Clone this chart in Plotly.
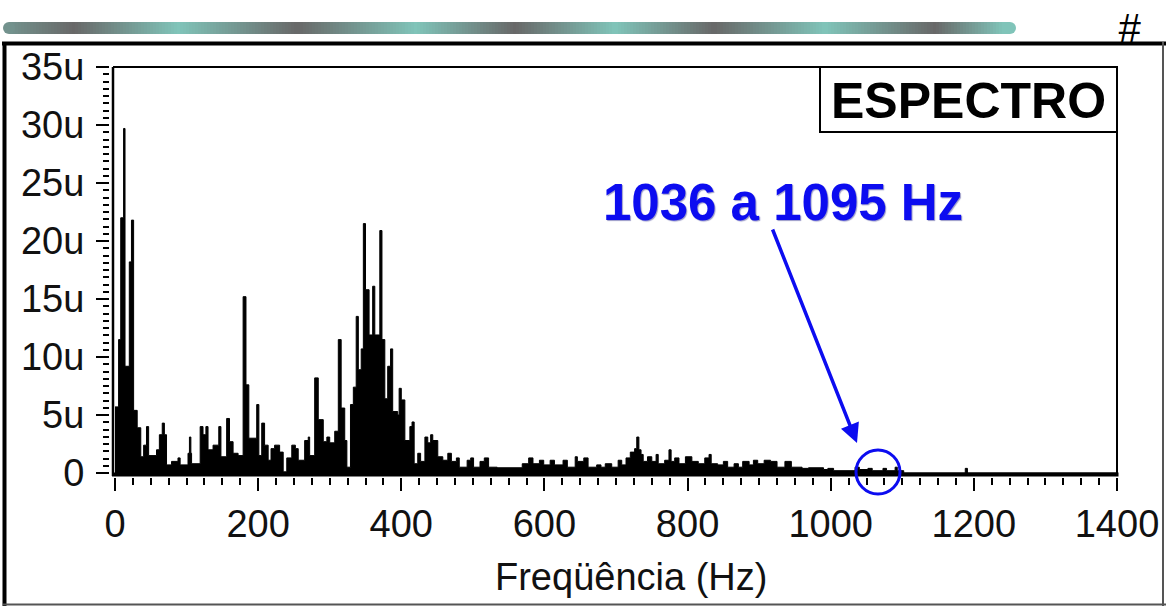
import plotly.graph_objects as go

# ---------------- data ----------------
# start frequency of each spectral step (Hz) and its amplitude (micro-units)
freq_hz = [0, 5, 8, 12, 14, 20, 23, 26, 31, 36, 40, 44, 47, 58, 62, 66, 69, 72, 79, 88,
           91, 102, 104, 106, 107, 119, 123, 127, 130, 137, 145, 148, 156, 160, 165, 172,
           179, 183, 187, 198, 201, 205, 209, 214, 218, 223, 230, 235, 240, 247, 252, 256,
           265, 270, 272, 279, 284, 291, 296, 300, 307, 312, 316, 321, 324, 329, 333, 337,
           340, 344, 347, 350, 355, 360, 363, 370, 373, 377, 381, 385, 388, 395, 397, 400,
           405, 412, 415, 418, 423, 427, 433, 437, 441, 444, 451, 458, 465, 470, 477, 481,
           492, 497, 501, 510, 516, 522, 534, 569, 578, 584, 593, 599, 608, 614, 626, 632,
           643, 646, 655, 661, 673, 679, 685, 694, 703, 708, 714, 720, 726, 729, 732, 735,
           738, 744, 750, 756, 759, 768, 774, 777, 782, 788, 797, 806, 815, 824, 830, 833,
           842, 850, 856, 865, 871, 877, 886, 892, 898, 907, 916, 925, 936, 945, 960, 969,
           990, 996, 1004, 1034, 1040, 1052, 1058, 1073, 1078, 1090, 1093, 1102, 1188, 1191,
           1400]
amp_u = [5.7, 11.5, 22.0, 29.7, 9.2, 18.2, 21.8, 5.4, 3.9, 1.4, 2.4, 4.0, 1.5, 2.0, 3.3, 4.3,
         3.3, 0.7, 1.0, 1.3, 0.7, 1.7, 3.1, 1.7, 0.8, 4.0, 3.3, 4.0, 2.0, 2.4, 4.0, 1.4, 4.7,
         2.7, 1.7, 1.5, 15.2, 7.6, 3.0, 5.9, 1.5, 4.3, 2.4, 1.1, 2.1, 2.4, 1.8, 0.1, 1.3, 2.4,
         2.1, 1.1, 2.8, 3.1, 1.5, 8.2, 4.6, 2.7, 3.1, 2.6, 3.6, 11.5, 5.6, 2.8, 0.5, 5.9, 7.4,
         13.5, 8.9, 10.7, 21.5, 15.8, 11.9, 16.1, 11.9, 20.9, 11.5, 6.4, 9.2, 10.7, 5.3, 5.0,
         7.3, 6.3, 2.8, 4.0, 4.4, 0.8, 1.7, 1.0, 3.1, 2.6, 3.3, 2.8, 1.4, 1.1, 1.7, 1.0, 1.3,
         0.5, 1.1, 1.3, 0.5, 1.0, 1.3, 0.5, 0.45, 0.8, 1.3, 0.8, 1.1, 0.7, 1.1, 0.7, 1.1, 0.5,
         1.4, 1.0, 1.3, 0.5, 0.7, 0.5, 0.8, 0.5, 1.1, 0.7, 1.3, 1.8, 2.1, 3.1, 2.0, 1.6, 1.0,
         1.4, 1.0, 1.6, 0.8, 1.1, 2.0, 1.0, 1.3, 0.8, 1.4, 1.0, 0.8, 1.3, 1.6, 0.8, 0.7, 1.0,
         0.5, 0.8, 0.5, 1.0, 0.7, 1.1, 0.8, 1.1, 1.0, 0.5, 1.0, 0.5, 0.4, 0.45, 0.3, 0.4, 0.2,
         0.5, 0.3, 0.4, 0.2, 0.4, 0.2, 0.5, 0.2, 0.0, 0.4, 0.0, 0.0]

x_tick_vals = [0, 200, 400, 600, 800, 1000, 1200, 1400]
y_tick_vals = [0, 5, 10, 15, 20, 25, 30, 35]
y_tick_text = ["0", "5u", "10u", "15u", "20u", "25u", "30u", "35u"]

title_box_text = "ESPECTRO"
x_title = "Freqüência (Hz)"
note_text = "1036 a 1095 Hz"

# ---------------- layout geometry (pixels) ----------------
W, H = 1166, 606
PL, PR, PT, PB = 110, 1121, 67, 477          # plot-area edges
X0PX, X1PX = 115, 1117                        # 0 Hz and 1400 Hz
Y0PX, Y35PX = 473, 67                          # 0 and 35u

hz_per_px = 1400 / (X1PX - X0PX)
u_per_px = 35 / (Y0PX - Y35PX)
x_range = [-(X0PX - PL) * hz_per_px, 1400 + (PR - X1PX) * hz_per_px]
y_range = [-(PB - Y0PX) * u_per_px, 35]


def px(x):
    return (x - PL) / (PR - PL)


def py(y):
    return (PB - y) / (PB - PT)


FONT = "Liberation Sans, Arial, sans-serif"
BLUE = "#0c0cf0"

fig = go.Figure()
fig.add_trace(go.Scatter(
    x=freq_hz, y=amp_u, mode="lines",
    line=dict(color="black", width=1, shape="hv"),
    fill="tozeroy", fillcolor="black", hoverinfo="skip", showlegend=False))

shapes = []


def line(x0, y0, x1, y1, color="black", width=2):
    shapes.append(dict(type="line", xref="paper", yref="paper",
                       x0=px(x0), y0=py(y0), x1=px(x1), y1=py(y1),
                       line=dict(color=color, width=width)))


# plot frame
line(113, 67, 113, 476, width=2.5)
line(113, 67, 1117, 67, width=2)
line(1117, 67, 1117, 476, width=2)
line(112, 474.5, 1118.5, 474.5, width=4)

# ESPECTRO box
shapes.append(dict(type="rect", xref="paper", yref="paper",
                   x0=px(820), x1=px(1117), y0=py(132), y1=py(67),
                   fillcolor="white", line=dict(color="black", width=2)))

# blue circle
shapes.append(dict(type="circle", xref="paper", yref="paper",
                   x0=px(856), x1=px(900), y0=py(494), y1=py(450),
                   line=dict(color=BLUE, width=3)))

# outer frame of slide
line(2, 43.5, 1166, 43.5, width=4)
line(4.5, 42, 4.5, 606, width=4)
line(1163, 42, 1163, 606, color="#555", width=2)
line(3, 604.5, 1166, 604.5, color="#555", width=2)

# decorative gradient bar at top
teal = (128, 196, 185)
dark = (104, 104, 104)
keys = [(3, 0.5), (74, 0.0), (178, 1.0), (297, 0.0), (416, 1.0), (515, 0.0),
        (615, 1.0), (714, 0.0), (825, 1.0), (935, 0.0), (1003, 1.0), (1016, 1.0)]


def mix_at(x):
    for (a, ta), (b, tb) in zip(keys[:-1], keys[1:]):
        if a <= x <= b:
            t = ta + (tb - ta) * (x - a) / (b - a)
            break
    else:
        t = keys[-1][1]
    c = [round(dark[i] + (teal[i] - dark[i]) * t) for i in range(3)]
    return "rgb(%d,%d,%d)" % tuple(c)


step = 3
xs = 9
while xs < 1010:
    shapes.append(dict(type="rect", xref="paper", yref="paper",
                       x0=px(xs), x1=px(min(xs + step + 0.6, 1010)), y0=py(34), y1=py(22),
                       fillcolor=mix_at(xs + step / 2), line=dict(width=0), layer="below"))
    xs += step
for cx in (9, 1010):
    shapes.append(dict(type="circle", xref="paper", yref="paper",
                       x0=px(cx - 6), x1=px(cx + 6), y0=py(34), y1=py(22),
                       fillcolor=mix_at(cx), line=dict(width=0), layer="below"))

annotations = [
    dict(text="<b>%s</b>" % title_box_text, x=px(968), y=py(101), xref="paper", yref="paper",
         showarrow=False, xanchor="center", yanchor="middle",
         font=dict(family=FONT, size=50, color="black")),
    dict(text="<b>%s</b>" % note_text, x=px(783), y=py(203), xref="paper", yref="paper",
         showarrow=False, xanchor="center", yanchor="middle",
         font=dict(family=FONT, size=51, color=BLUE, shadow="1px 1px 1px #9a9ac8")),
    dict(text="", x=px(857), y=py(443), xref="paper", yref="paper",
         ax=772 - 857, ay=228 - 443, showarrow=True, arrowhead=2, arrowsize=1.1,
         arrowwidth=3.5, arrowcolor=BLUE, standoff=0),
    dict(text=x_title, x=px(631), y=py(577), xref="paper", yref="paper",
         showarrow=False, xanchor="center", yanchor="middle",
         font=dict(family=FONT, size=38, color="#111")),
    dict(text="<i>#</i>", x=px(1129), y=py(28), xref="paper", yref="paper",
         showarrow=False, xanchor="center", yanchor="middle",
         font=dict(family=FONT, size=40, color="black")),
]

fig.update_layout(
    width=W, height=H, autosize=False,
    margin=dict(l=PL, r=W - PR, t=PT, b=H - PB, pad=0, autoexpand=False),
    paper_bgcolor="white", plot_bgcolor="white",
    shapes=shapes, annotations=annotations, showlegend=False,
    xaxis=dict(range=x_range, showline=False, showgrid=False, zeroline=False,
               automargin=False,
               tickmode="array", tickvals=x_tick_vals,
               ticks="outside", ticklen=13, tickwidth=2, tickcolor="black",
               ticklabelstandoff=0,
               tickfont=dict(family=FONT, size=38, color="#111"),
               minor=dict(dtick=25, tick0=0, ticks="outside", ticklen=7,
                          tickwidth=2, tickcolor="black", showgrid=False),
               fixedrange=True),
    yaxis=dict(range=y_range, showline=False, showgrid=False, zeroline=False,
               automargin=False,
               tickmode="array", tickvals=y_tick_vals, ticktext=y_tick_text,
               ticks="outside", ticklen=13, tickwidth=2, tickcolor="black",
               ticklabelstandoff=4,
               tickfont=dict(family=FONT, size=38, color="#111"),
               minor=dict(dtick=0.625, tick0=0, ticks="outside", ticklen=6,
                          tickwidth=2, tickcolor="black", showgrid=False),
               fixedrange=True),
)

fig.write_html("out.html", config={"displayModeBar": False})
